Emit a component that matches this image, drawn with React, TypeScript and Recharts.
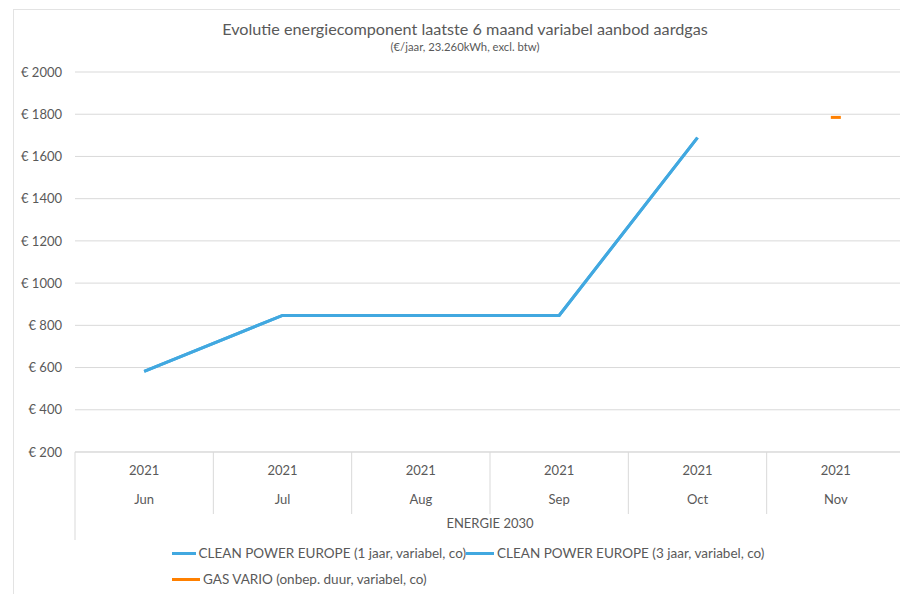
import React from 'react';
import { LineChart, Line, XAxis, YAxis, CartesianGrid, Legend } from 'recharts';

// Evolutie energiecomponent – variabel aanbod aardgas (ENERGIE 2030)
const months = ['Jun', 'Jul', 'Aug', 'Sep', 'Oct', 'Nov'];
const years = ['2021', '2021', '2021', '2021', '2021', '2021'];
const cleanPower1y: (number | null)[] = [582, 847, 847, 847, 1689, null];
const cleanPower3y: (number | null)[] = [582, 847, 847, 847, 1689, null];
const gasVario: (number | null)[] = [null, null, null, null, null, 1785];
const yTicks = [200, 400, 600, 800, 1000, 1200, 1400, 1600, 1800, 2000];

const BLUE = '#41a8e0';
const ORANGE = '#ff8000';
const TEXT = '#595959';
const GRID = '#d9d9d9';
const FONT = 'Lato, "Open Sans", sans-serif';

const data = months.map((m, i) => ({
  month: m,
  year: years[i],
  cp1: cleanPower1y[i],
  cp3: cleanPower3y[i],
  gas: gasVario[i],
}));

const CategoryTick = (props: any) => {
  const { x, y, payload, index } = props;
  const half = payload.offset || 0;
  const left = x - half;
  return (
    <g>
      <line x1={left} y1={y} x2={left} y2={index === 0 ? y + 88 : y + 62} stroke={GRID} />
      {index === months.length - 1 && (
        <line x1={x + half} y1={y} x2={x + half} y2={y + 62} stroke={GRID} />
      )}
      <text x={x} y={y + 23} textAnchor="middle" fill={TEXT} fontSize={13} fontFamily={FONT}>
        {years[index]}
      </text>
      <text x={x} y={y + 52} textAnchor="middle" fill={TEXT} fontSize={13} fontFamily={FONT}>
        {payload.value}
      </text>
    </g>
  );
};

const DashDot = (props: any) => {
  const { cx, cy, value } = props;
  if (value == null || cx == null) return null;
  return <rect x={cx - 5} y={cy - 1.5} width={10} height={3} fill={ORANGE} />;
};

const LegendBox = (props: any) => {
  const { payload } = props;
  return (
    <div
      style={{
        display: 'grid',
        gridTemplateColumns: '294px auto',
        rowGap: 8,
        fontFamily: FONT,
        fontSize: 13.5,
        color: TEXT,
        whiteSpace: 'nowrap',
      }}
    >
      {(payload || []).map((p: any) => (
        <div key={p.dataKey} style={{ display: 'flex', alignItems: 'center', height: 18 }}>
          <span style={{ display: 'inline-block', width: 28, height: 3, background: p.color, marginRight: 3 }} />
          <span>{p.value}</span>
        </div>
      ))}
    </div>
  );
};

export default function App() {
  return (
    <div style={{ position: 'relative', width: 900, height: 594, overflow: 'hidden', background: '#fff' }}>
      <style>{'body{margin:0}'}</style>
      <div
        style={{
          position: 'absolute',
          left: 13,
          top: 9,
          width: 1000,
          height: 700,
          borderLeft: '1px solid #e3e3e3',
          borderTop: '1px solid #e3e3e3',
        }}
      />
      <div
        style={{
          position: 'absolute',
          left: 0,
          width: 930,
          top: 19,
          textAlign: 'center',
          fontFamily: FONT,
          color: TEXT,
        }}
      >
        <div style={{ fontSize: 16.2, lineHeight: '20px' }}>
          Evolutie energiecomponent laatste 6 maand variabel aanbod aardgas
        </div>
        <div style={{ fontSize: 11.3, lineHeight: '16px' }}>(€/jaar, 23.260kWh, excl. btw)</div>
      </div>
      <div style={{ position: 'absolute', left: 0, top: 0 }}>
        <LineChart width={910} height={594} data={data} margin={{ top: 72, right: 5, left: 0, bottom: 0 }}>
          <CartesianGrid vertical={false} stroke={GRID} />
          <XAxis
            dataKey="month"
            scale="band"
            height={142}
            axisLine={{ stroke: GRID }}
            tickLine={false}
            tickSize={0}
            tickMargin={0}
            interval={0}
            tick={<CategoryTick />}
            label={(p: any) => {
              const vb = p.viewBox || {};
              return (
                <text
                  x={vb.x + vb.width / 2}
                  y={vb.y + 76}
                  textAnchor="middle"
                  fill={TEXT}
                  fontSize={13}
                  fontFamily={FONT}
                >
                  ENERGIE 2030
                </text>
              );
            }}
          />
          <YAxis
            width={75}
            domain={[200, 2000]}
            ticks={yTicks}
            axisLine={false}
            tickLine={false}
            tickSize={0}
            tickMargin={13}
            tick={{ fill: TEXT, fontSize: 13, fontFamily: FONT }}
            tickFormatter={(v: number) => `€ ${v}`}
          />
          <Legend
            layout="horizontal"
            verticalAlign="middle"
            align="center"
            content={<LegendBox />}
            wrapperStyle={{ position: 'absolute', left: 172, top: 544, width: 660 }}
          />
          <Line
            type="linear"
            dataKey="cp1"
            name="CLEAN POWER EUROPE (1 jaar, variabel, co)"
            stroke={BLUE}
            strokeWidth={3}
            dot={false}
            activeDot={false}
            isAnimationActive={false}
          />
          <Line
            type="linear"
            dataKey="cp3"
            name="CLEAN POWER EUROPE (3 jaar, variabel, co)"
            stroke={BLUE}
            strokeWidth={3}
            dot={false}
            activeDot={false}
            isAnimationActive={false}
          />
          <Line
            type="linear"
            dataKey="gas"
            name="GAS VARIO (onbep. duur, variabel, co)"
            stroke={ORANGE}
            strokeWidth={3}
            dot={<DashDot />}
            activeDot={false}
            isAnimationActive={false}
          />
        </LineChart>
      </div>
    </div>
  );
}
